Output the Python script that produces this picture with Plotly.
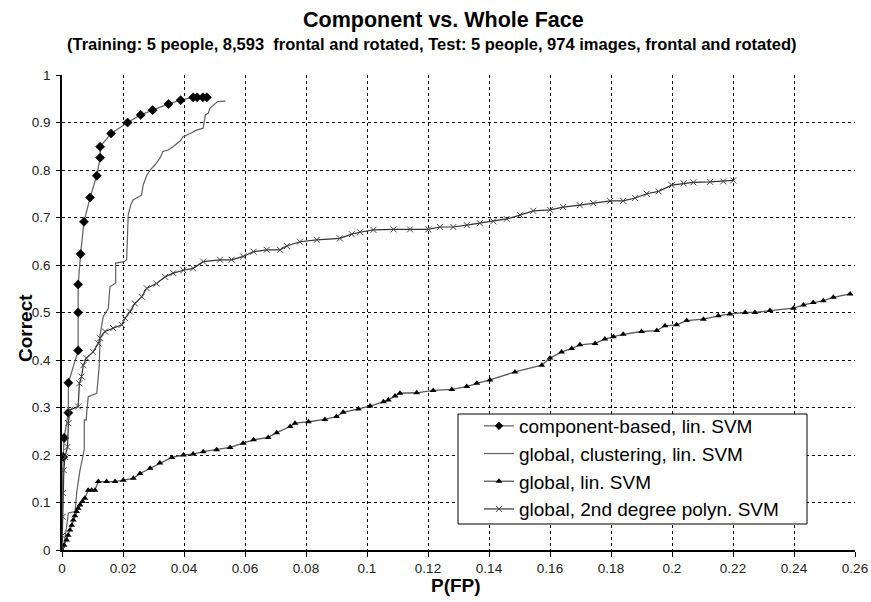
import plotly.graph_objects as go

# component-based, lin. SVM (diamonds)
comp_x = [0.0, 0.0, 0.0001, 0.0002, 0.0004, 0.0007, 0.0021, 0.0021, 0.0053, 0.0053, 0.0053, 0.0061,
          0.0072, 0.0092, 0.0114, 0.0125, 0.0125, 0.0161, 0.0215, 0.0258, 0.0297, 0.0349, 0.0389,
          0.043, 0.0443, 0.0462, 0.0475]
comp_y = [0.0, 0.05, 0.10, 0.15, 0.196, 0.236, 0.289, 0.352, 0.420, 0.500, 0.559, 0.623,
          0.691, 0.742, 0.788, 0.826, 0.849, 0.877, 0.900, 0.916, 0.926, 0.939, 0.947,
          0.953, 0.953, 0.953, 0.953]
comp_mark = [False, False, False, False, True, True, True, True, True, True, True, True,
             True, True, True, True, True, True, True, True, True, True, True,
             True, True, True, True]

# global, clustering, lin. SVM (thin line, steps)
clus_x = [0.0, 0.0004, 0.0015, 0.0021, 0.0021, 0.0043, 0.0048, 0.0059, 0.0073, 0.0073, 0.008, 0.008,
          0.0086, 0.0114, 0.0122, 0.0125, 0.013, 0.0135, 0.0152, 0.0157, 0.0176, 0.0176, 0.0203,
          0.0212, 0.0217, 0.0225, 0.0233, 0.0261, 0.0266, 0.0278, 0.0289, 0.0305, 0.0321, 0.0331,
          0.0348, 0.0364, 0.0387, 0.0397, 0.042, 0.0441, 0.0463, 0.047, 0.048, 0.0485, 0.051, 0.0536]
clus_y = [0.0, 0.0, 0.049, 0.070, 0.078, 0.081, 0.12, 0.168, 0.211, 0.274, 0.274, 0.281,
          0.323, 0.330, 0.386, 0.453, 0.474, 0.491, 0.509, 0.554, 0.562, 0.604, 0.607,
          0.611, 0.705, 0.726, 0.737, 0.747, 0.768, 0.789, 0.800, 0.811, 0.825, 0.839,
          0.842, 0.849, 0.861, 0.870, 0.877, 0.884, 0.888, 0.916, 0.920, 0.930, 0.944, 0.945]

# global, lin. SVM (triangles)
lin_x = [0.0, 0.0007, 0.0015, 0.002, 0.0026, 0.0032, 0.0037, 0.0042, 0.0048, 0.0053, 0.0059, 0.0067, 0.0075,
         0.0086, 0.0097, 0.0108, 0.0119, 0.0146, 0.0174, 0.0201, 0.0234, 0.0256, 0.0289, 0.0321,
         0.036, 0.0398, 0.043, 0.0463, 0.0507, 0.0551, 0.0594, 0.0628, 0.0676, 0.0704, 0.0748,
         0.0764, 0.0808, 0.0862, 0.09, 0.0922, 0.0972, 0.101, 0.1054, 0.107, 0.1092, 0.1108,
         0.1163, 0.1217, 0.1278, 0.1327, 0.136, 0.1403, 0.1485, 0.1573, 0.16, 0.1638, 0.1671,
         0.1698, 0.1748, 0.178, 0.1808, 0.184, 0.19, 0.195, 0.1977, 0.2015, 0.2048, 0.2103,
         0.2152, 0.219, 0.224, 0.2272, 0.2321, 0.2398, 0.2431, 0.2463, 0.2496, 0.2529, 0.2584]
lin_y = [0.0, 0.010, 0.021, 0.031, 0.042, 0.052, 0.063, 0.072, 0.081, 0.088, 0.095, 0.102, 0.109,
         0.126, 0.126, 0.126, 0.144, 0.144, 0.144, 0.147, 0.151, 0.161, 0.172, 0.183,
         0.195, 0.200, 0.202, 0.207, 0.211, 0.216, 0.225, 0.232, 0.237, 0.247, 0.260,
         0.267, 0.270, 0.275, 0.281, 0.290, 0.297, 0.303, 0.312, 0.316, 0.324, 0.330,
         0.331, 0.336, 0.338, 0.344, 0.351, 0.358, 0.375, 0.389, 0.404, 0.417, 0.424,
         0.432, 0.435, 0.444, 0.449, 0.454, 0.460, 0.462, 0.472, 0.474, 0.483, 0.486,
         0.493, 0.497, 0.500, 0.500, 0.504, 0.509, 0.516, 0.521, 0.525, 0.532, 0.539]

# global, 2nd degree polyn. SVM (x markers)
poly_x = [0.0, 0.0001, 0.0002, 0.0003, 0.0006, 0.001, 0.0018, 0.0021, 0.0026, 0.0053, 0.0057, 0.0064,
          0.007, 0.008, 0.0102, 0.0119, 0.0125, 0.0141, 0.0168, 0.0196, 0.0207, 0.0223, 0.0239,
          0.0261, 0.0278, 0.031, 0.0338, 0.0365, 0.0398, 0.043, 0.0463, 0.0518, 0.0556, 0.0594,
          0.0628, 0.0671, 0.0715, 0.0737, 0.078, 0.0835, 0.0911, 0.095, 0.0977, 0.1021, 0.1087,
          0.1141, 0.1201, 0.1239, 0.1283, 0.1327, 0.137, 0.1414, 0.1458, 0.1502, 0.1545, 0.16,
          0.1643, 0.1698, 0.1742, 0.1797, 0.184, 0.1879, 0.1917, 0.1956, 0.1999, 0.2038,
          0.207, 0.2125, 0.2168, 0.2201]
poly_y = [0.0, 0.03, 0.07, 0.12, 0.168, 0.196, 0.217, 0.267, 0.295, 0.302, 0.351, 0.365,
          0.389, 0.404, 0.417, 0.435, 0.446, 0.460, 0.467, 0.474, 0.488, 0.502, 0.519,
          0.533, 0.551, 0.561, 0.575, 0.583, 0.589, 0.593, 0.607, 0.611, 0.611, 0.618,
          0.628, 0.632, 0.632, 0.640, 0.649, 0.653, 0.656, 0.665, 0.669, 0.674, 0.675,
          0.675, 0.675, 0.680, 0.680, 0.684, 0.688, 0.692, 0.697, 0.705, 0.714, 0.716,
          0.722, 0.726, 0.730, 0.735, 0.735, 0.741, 0.750, 0.755, 0.768, 0.772,
          0.774, 0.775, 0.776, 0.778]

x_ticks = [0, 0.02, 0.04, 0.06, 0.08, 0.1, 0.12, 0.14, 0.16, 0.18, 0.2, 0.22, 0.24, 0.26]
x_tick_labels = ["0", "0.02", "0.04", "0.06", "0.08", "0.1", "0.12", "0.14", "0.16", "0.18",
                 "0.2", "0.22", "0.24", "0.26"]
y_ticks = [0, 0.1, 0.2, 0.3, 0.4, 0.5, 0.6, 0.7, 0.8, 0.9, 1]
y_tick_labels = ["0", "0.1", "0.2", "0.3", "0.4", "0.5", "0.6", "0.7", "0.8", "0.9", "1"]

FONT = "Liberation Sans, Arial, sans-serif"
LINE = "#5a5a5a"

# figure geometry (body margin removed via post_script)
W, H = 871, 602
L, R, T, B = 62, 16, 75, 52
PW, PH = W - L - R, H - T - B


def px(page_x):
    return (page_x - L) / PW


def py(page_y):
    return (H - B - page_y) / PH


fig = go.Figure()
fig.add_trace(go.Scatter(
    x=comp_x, y=comp_y, mode="lines+markers", name="component-based, lin. SVM",
    line=dict(color="#6a6a6a", width=1.3),
    marker=dict(symbol="diamond", size=[7 if m else 0 for m in comp_mark], color="#000000",
                opacity=1, line=dict(width=0.6, color="#000000")),
))
fig.add_trace(go.Scatter(
    x=clus_x, y=clus_y, mode="lines", name="global, clustering, lin. SVM",
    line=dict(color="#606060", width=1.2),
))
fig.add_trace(go.Scatter(
    x=lin_x, y=lin_y, mode="lines+markers", name="global, lin. SVM",
    line=dict(color=LINE, width=1.3),
    marker=dict(symbol="triangle-up", size=6, color="black"),
))
fig.add_trace(go.Scatter(
    x=poly_x, y=poly_y, mode="lines+markers", name="global, 2nd degree polyn. SVM",
    line=dict(color="#333333", width=1.2),
    marker=dict(symbol="x-thin", size=6, color="black", line=dict(width=1, color="#444444")),
))

fig.update_layout(
    width=W, height=H,
    margin=dict(l=L, r=R, t=T, b=B, autoexpand=False),
    paper_bgcolor="white", plot_bgcolor="white",
    font=dict(family=FONT, color="black", size=13),
    showlegend=True,
    legend=dict(
        x=px(479), y=py(407), xanchor="left", yanchor="top",
        bgcolor="rgba(0,0,0,0)", borderwidth=0,
        font=dict(size=19, family=FONT), tracegroupgap=0, itemwidth=30,
    ),
    shapes=[
        dict(type="rect", xref="paper", yref="paper",
             x0=px(458), x1=px(807), y0=py(524), y1=py(414),
             line=dict(color="black", width=1), fillcolor="white", layer="above"),
    ],
    annotations=[
        dict(text="<b>Component vs. Whole Face</b>", x=px(443), y=py(20), xref="paper", yref="paper",
             xanchor="center", yanchor="middle",
             showarrow=False, font=dict(size=21.5, family=FONT)),
        dict(text="<b>(Training: 5 people, 8,593  frontal and rotated, Test: 5 people, 974 images, frontal and rotated)</b>",
             x=px(432), y=py(44), xref="paper", yref="paper", showarrow=False,
             xanchor="center", yanchor="middle",
             font=dict(size=16.5, family=FONT)),
        dict(text="<b>P(FP)</b>", x=px(456), y=py(585), xref="paper", yref="paper",
             xanchor="center", yanchor="middle",
             showarrow=False, font=dict(size=19, family=FONT)),
        dict(text="<b>Correct</b>", x=px(25), y=py(328), xref="paper", yref="paper",
             xanchor="center", yanchor="middle",
             showarrow=False, textangle=-90, font=dict(size=19, family=FONT)),
    ],
)

fig.update_xaxes(
    range=[0, 0.26], tickvals=x_ticks, ticktext=x_tick_labels,
    showgrid=True, gridcolor="black", griddash="3px,3px", gridwidth=1,
    showline=True, linecolor="black", linewidth=1.5, zeroline=False,
    ticks="outside", ticklen=5, tickcolor="black", automargin=False,
    tickfont=dict(size=13.5, color="#222222"),
)
fig.update_yaxes(
    range=[0, 1], tickvals=y_ticks, ticktext=y_tick_labels,
    showgrid=True, gridcolor="black", griddash="3px,3px", gridwidth=1,
    showline=True, linecolor="black", linewidth=1.5, zeroline=False,
    ticks="outside", ticklen=4, tickcolor="black", automargin=False,
    ticklabelstandoff=3,
    tickfont=dict(size=13.5, color="#222222"),
)

fig.write_html("out.html", config={"displayModeBar": False},
               post_script="document.body.style.margin='0';")
